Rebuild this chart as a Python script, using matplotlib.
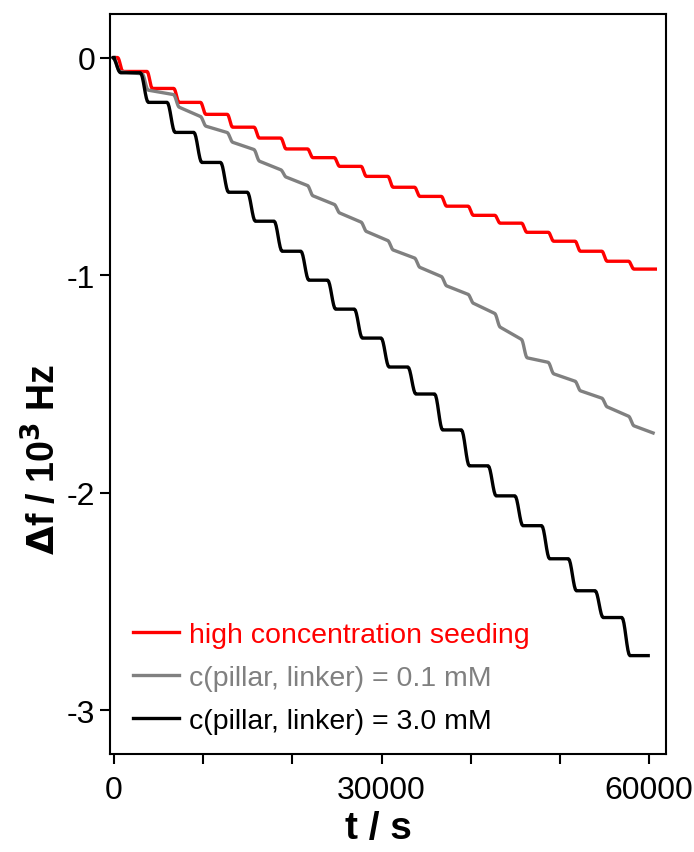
import numpy as np
import matplotlib
matplotlib.use('Agg')
import matplotlib.pyplot as plt
from matplotlib.ticker import MultipleLocator

plt.rcParams['font.family'] = ['Liberation Sans', 'DejaVu Sans']
plt.rcParams['axes.unicode_minus'] = False

# data (t in s, df in 10^3 Hz)
# each series: drop times between plateaus, plateau start/end levels, end time
red_drops = [700, 4000, 7000, 10000, 13000, 16000, 19000, 22000, 25000, 28000,
             31000, 34000, 37000, 40000, 43000, 46000, 49000, 52000, 55000, 58000]
red_levels = [0, -0.064, -0.142, -0.206, -0.261, -0.32, -0.37, -0.42, -0.46, -0.50,
              -0.546, -0.596, -0.638, -0.683, -0.725, -0.761, -0.803, -0.844, -0.890,
              -0.936, -0.972]
red_end = 60700

gray_drops = [300, 3500, 7000, 10000, 13000, 16000, 19000, 22000, 25000, 28000,
              31000, 34000, 37000, 40000, 43000, 46000, 49000, 52000, 55000, 58000]
gray_start = [0, -0.065, -0.15, -0.229, -0.316, -0.39, -0.477, -0.55, -0.636, -0.715,
              -0.80, -0.885, -0.965, -1.05, -1.13, -1.24, -1.38, -1.454, -1.532,
              -1.606, -1.693]
gray_stop = [0, -0.075, -0.17, -0.27, -0.344, -0.422, -0.515, -0.587, -0.674, -0.755,
             -0.84, -0.92, -1.005, -1.087, -1.175, -1.294, -1.40, -1.486, -1.564,
             -1.647, -1.725]
gray_end = 60450

black_drops = [300, 3400, 6400, 9400, 12400, 15400, 18400, 21400, 24400, 27400,
               30400, 33400, 36400, 39400, 42400, 45400, 48400, 51400, 54400, 57400]
black_levels = [0, -0.07, -0.206, -0.344, -0.482, -0.619, -0.752, -0.890, -1.023,
                -1.156, -1.289, -1.422, -1.546, -1.711, -1.876, -2.014, -2.151,
                -2.303, -2.45, -2.573, -2.748]
black_end = 59900

labels = ['high concentration seeding', 'c(pillar, linker) = 0.1 mM',
          'c(pillar, linker) = 3.0 mM']


def steps(drops, starts, stops, t_end, w):
    # plateau corners, joined by a smooth s-shaped drop
    edges = [0] + list(drops) + [t_end]
    xs, ys = [], []
    s = np.linspace(0, 1, 9)
    ease = 0.5 - 0.5 * np.cos(np.pi * s)
    for i in range(len(starts)):
        left = edges[i] + (w if i > 0 else 0)
        right = edges[i + 1] - (w if i < len(starts) - 1 else 0)
        if i > 0:
            xs += list(edges[i] - w + 2 * w * s[1:-1])
            ys += list(stops[i - 1] + (starts[i] - stops[i - 1]) * ease[1:-1])
        xs += [left, right]
        ys += [starts[i], stops[i]]
    return np.array(xs), np.array(ys)


fig = plt.figure(figsize=(6.94, 8.53), dpi=100)
ax = fig.add_axes([0.1585, 0.1149, 0.8012, 0.8675])

x_r, y_r = steps(red_drops, red_levels, red_levels, red_end, 300)
x_g, y_g = steps(gray_drops, gray_start, gray_stop, gray_end, 350)
x_b, y_b = steps(black_drops, black_levels, black_levels, black_end, 450)

ax.plot(x_r, y_r, color='#ff0000', lw=2.4, label=labels[0], solid_joinstyle='round')
ax.plot(x_g, y_g, color='#808080', lw=2.4, label=labels[1], solid_joinstyle='round')
ax.plot(x_b, y_b, color='black', lw=2.4, label=labels[2], solid_joinstyle='round')

ax.set_xlim(-450, 61900)
ax.set_ylim(-3.2, 0.2)
ax.set_xticks([0, 30000, 60000])
ax.xaxis.set_minor_locator(MultipleLocator(10000))
ax.set_yticks([0, -1, -2, -3])
ax.set_yticklabels(['0', '-1', '-2', '-3'])
ax.tick_params(which='both', direction='out', length=7, width=1.5, labelsize=23,
               top=False, right=False)
ax.tick_params(axis='x', pad=8)
for sp in ax.spines.values():
    sp.set_linewidth(1.5)

ax.set_xlabel('t / s', fontsize=28, fontweight='bold')
ax.xaxis.set_label_coords(0.482, -0.076)
ax.set_ylabel(r'$\mathbf{\Delta}$f / 10$^{\mathbf{3}}$ Hz', fontsize=27,
              fontweight='bold')
ax.yaxis.set_label_coords(-0.083, 0.40)

ax.legend(loc='lower left', bbox_to_anchor=(0.02, 0.011), frameon=False,
          fontsize=20.5, handlelength=1.65, handletextpad=0.35, labelspacing=0.6,
          labelcolor='linecolor', borderaxespad=0)

fig.savefig('out.png', dpi=100)
